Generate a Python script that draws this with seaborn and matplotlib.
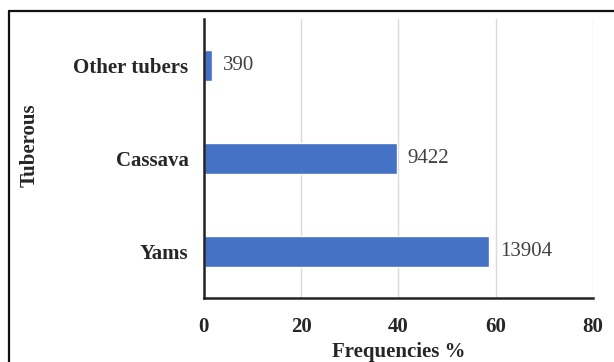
import matplotlib.pyplot as plt
import seaborn as sns
import pandas as pd
from matplotlib.lines import Line2D

# datos
categorias = ['Other tubers', 'Cassava', 'Yams']
conteos = [390, 9422, 13904]
total = sum(conteos)
frecuencias = [100.0 * c / total for c in conteos]

df = pd.DataFrame({'Tuberous': categorias, 'Frecuencia': frecuencias, 'n': conteos})

sns.set_style('white')
plt.rcParams['font.family'] = ['Liberation Serif', 'DejaVu Serif']
fs = 15

fig = plt.figure(figsize=(6.14, 3.62), dpi=100)
ax = fig.add_axes([0.332, 0.177, 0.634, 0.771])

sns.barplot(data=df, x='Frecuencia', y='Tuberous', color='#4472C4',
            saturation=1, width=0.33, ax=ax)

for i, (f, n) in enumerate(zip(frecuencias, conteos)):
    ax.text(f + 2.2, i, str(n), va='center', ha='left', fontsize=fs,
            color='#404040')

ax.set_xlim(0, 80)
ax.set_ylim(2.5, -0.5)
ax.set_xticks([0, 20, 40, 60, 80])
ax.set_yticks([-0.5, 0.5, 1.5, 2.5], minor=True)
ax.set_yticks([0, 1, 2])
ax.set_yticklabels(categorias, fontweight='bold', fontsize=fs)
ax.tick_params(axis='y', which='major', length=0, pad=11)
ax.tick_params(axis='y', which='minor', length=5, width=1.2, direction='out',
               color='#333333')
ax.tick_params(axis='x', length=5, width=1.2, direction='inout',
               color='#333333', labelsize=fs, pad=11)
for lab in ax.get_xticklabels():
    lab.set_fontweight('bold')

ax.xaxis.grid(True, color='#d9d9d9', linewidth=1)
ax.set_axisbelow(True)
for s in ['top', 'right']:
    ax.spines[s].set_visible(False)
for s in ['left', 'bottom']:
    ax.spines[s].set_color('#222222')
    ax.spines[s].set_linewidth(1.8)

ax.set_xlabel('Frequencies %', fontweight='bold', fontsize=fs)
ax.set_ylabel('Tuberous', fontweight='bold', fontsize=fs)
ax.yaxis.set_label_coords(-0.421, 0.547)
ax.xaxis.set_label_coords(0.5, -0.158)

# marco exterior
fig.add_artist(Line2D([8.5 / 614, 1.0], [1 - 11 / 362, 1 - 11 / 362],
                      color='#111111', linewidth=1.6, transform=fig.transFigure))
fig.add_artist(Line2D([8.5 / 614, 8.5 / 614], [0, 1 - 11 / 362],
                      color='#111111', linewidth=1.6, transform=fig.transFigure))

plt.savefig('out.png', dpi=100)
